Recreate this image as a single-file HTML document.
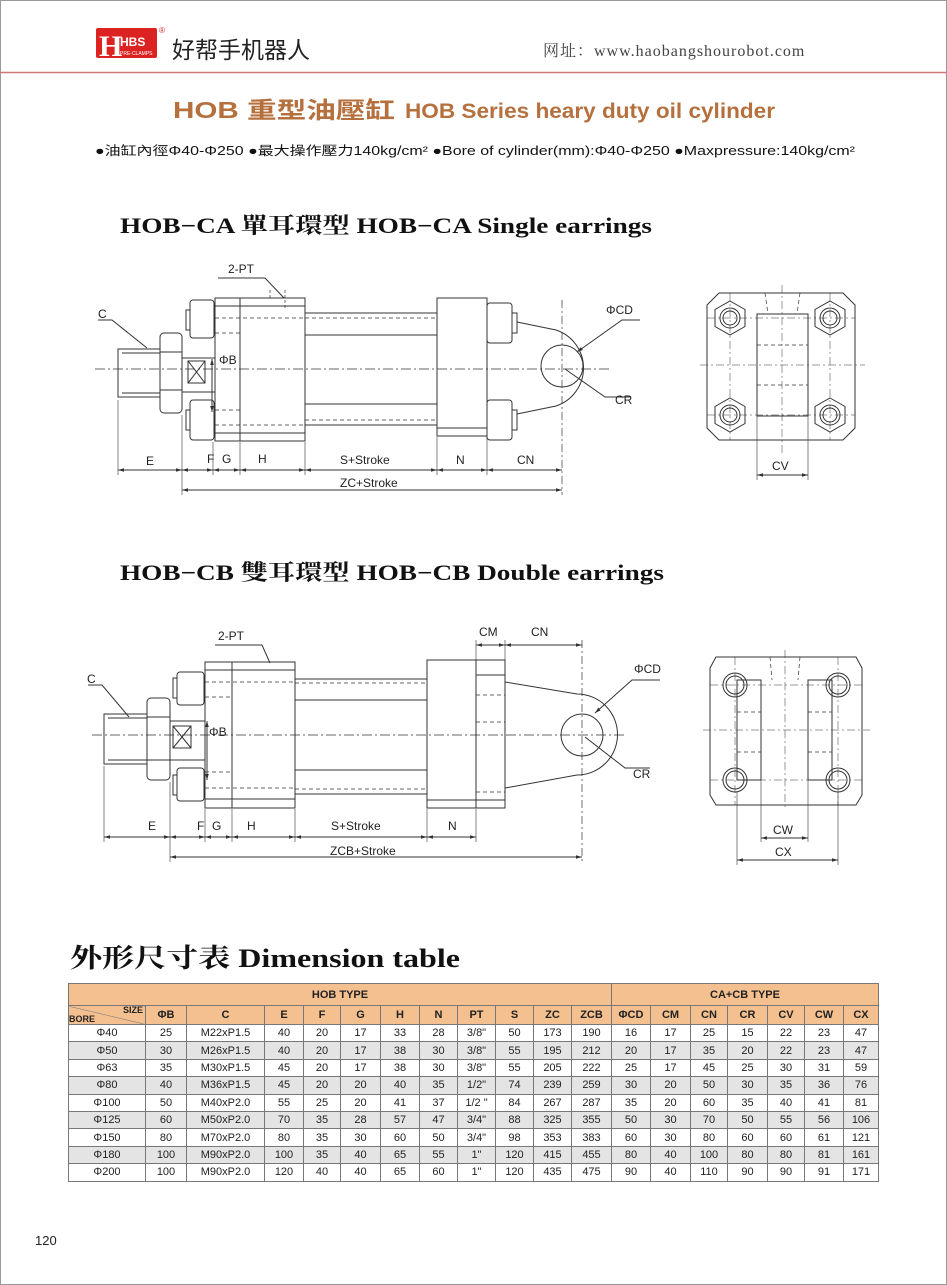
<!DOCTYPE html>
<html><head><meta charset="utf-8">
<style>
body{margin:0;background:#fff;}
#pg{position:relative;width:947px;height:1285px;overflow:hidden;background:#fff;font-family:"Liberation Sans","Noto Sans CJK SC",sans-serif;}
.b{position:absolute;}
table{position:absolute;left:68px;top:983px;border-collapse:collapse;font-family:"Liberation Sans Narrow","Liberation Sans",sans-serif;font-size:11px;color:#222;}
td{border:1px solid #777;text-align:center;padding:0;height:16.4px;line-height:16px;}
tr.h1 td{background:#f4c08f;font-weight:bold;height:21px;}
tr.h2 td{background:#f4c08f;font-weight:bold;height:18px;}
tr.g td{background:#e4e4e4;}
</style></head><body><div id="pg">
<svg class="b" style="left:0;top:0" width="947" height="1285" xmlns="http://www.w3.org/2000/svg">
<defs>
<marker id="a" viewBox="0 0 10 10" refX="10" refY="5" markerWidth="6" markerHeight="6" orient="auto-start-reverse"><path d="M0,2L10,5L0,8z" fill="#333"/></marker>
</defs>
<rect x="0.5" y="0.5" width="946" height="1284" fill="none" stroke="#999"/>
<!-- logo -->
<rect x="96" y="28" width="61" height="30" rx="2" fill="#d22"/>
<text x="99" y="56" font-family="Liberation Serif" font-size="30" font-weight="bold" fill="#fff">H</text>
<text x="120" y="46" font-family="Liberation Sans" font-size="12" font-weight="bold" fill="#fff">HBS</text>
<text x="120" y="55" font-family="Liberation Sans" font-size="5" fill="#fff">PRE-CLAMPS</text>
<text x="159" y="33" font-size="8" fill="#d22">®</text>
<text x="172" y="58" font-family="'Noto Sans CJK SC',sans-serif" font-size="23" fill="#222">好帮手机器人</text>
<text x="543" y="56" font-family="'Liberation Serif','Noto Serif CJK SC',serif" font-size="16" fill="#444" letter-spacing="1">网址：www.haobangshourobot.com</text>
<line x1="0" y1="72.5" x2="947" y2="72.5" stroke="#c77" stroke-width="1.5"/>
<text x="173" y="118" font-family="'Liberation Sans','Noto Sans CJK SC',sans-serif" font-size="23" font-weight="bold" fill="#b5703e" textLength="222" lengthAdjust="spacingAndGlyphs">HOB 重型油壓缸</text>
<text x="405" y="118" font-family="'Liberation Sans Narrow','Liberation Sans',sans-serif" font-size="21" font-weight="bold" fill="#b5703e" textLength="370" lengthAdjust="spacingAndGlyphs">HOB Series heary duty oil cylinder</text>
<text x="95" y="155" font-family="'Liberation Sans Narrow','Liberation Sans','Noto Sans CJK SC',sans-serif" font-size="12.5" fill="#111" textLength="760" lengthAdjust="spacingAndGlyphs">●油缸內徑Φ40-Φ250  ●最大操作壓力140kg/cm²   ●Bore of cylinder(mm):Φ40-Φ250   ●Maxpressure:140kg/cm²</text>
<text x="120" y="233" font-family="'Liberation Serif','Noto Serif CJK SC',serif" font-size="22" font-weight="bold" fill="#111" textLength="532" lengthAdjust="spacingAndGlyphs">HOB−CA 單耳環型  HOB−CA Single earrings</text>
<text x="120" y="580" font-family="'Liberation Serif','Noto Serif CJK SC',serif" font-size="22" font-weight="bold" fill="#111" textLength="544" lengthAdjust="spacingAndGlyphs">HOB−CB 雙耳環型  HOB−CB Double earrings</text>
<text x="70" y="967" font-family="'Liberation Serif','Noto Serif CJK SC',serif" font-size="26" font-weight="bold" fill="#111" textLength="390" lengthAdjust="spacingAndGlyphs">外形尺寸表  Dimension table</text>
<text x="35" y="1245" font-size="13" fill="#222">120</text>

<g fill="none" stroke="#333" stroke-width="1" font-family="Liberation Sans" font-size="12">
<!-- ===== CA ===== -->
<line x1="95" y1="369" x2="610" y2="369" stroke-dasharray="10,3,2,3" stroke-width=".7"/>
<rect x="118" y="349" width="42" height="48"/><line x1="122" y1="353" x2="160" y2="353"/><line x1="122" y1="393" x2="160" y2="393"/>
<rect x="160" y="333" width="22" height="80" rx="4"/><line x1="160" y1="352" x2="182" y2="352"/><line x1="160" y1="390" x2="182" y2="390"/>
<rect x="182" y="358" width="33" height="34"/><rect x="188" y="361" width="17" height="22"/><path d="M188,361L205,383M205,361L188,383"/>
<path d="M212,359V412" marker-start="url(#a)" marker-end="url(#a)"/>
<text x="219" y="364" stroke="none" fill="#222">ΦB</text>
<rect x="215" y="298" width="90" height="143"/><line x1="240" y1="298" x2="240" y2="441"/><line x1="215" y1="306" x2="305" y2="306"/><line x1="215" y1="433" x2="305" y2="433"/>
<path d="M215,318H305M215,333H240M215,410H240M215,425H305" stroke-dasharray="4,3" stroke-width=".7"/>
<rect x="190" y="300" width="24" height="38" rx="3"/><rect x="186" y="310" width="4" height="20"/>
<rect x="190" y="400" width="24" height="40" rx="3"/><rect x="186" y="410" width="4" height="20"/>
<rect x="305" y="313" width="132" height="112"/><line x1="305" y1="335" x2="437" y2="335"/><line x1="305" y1="404" x2="437" y2="404"/>
<path d="M305,318H437M305,420H437" stroke-dasharray="4,3" stroke-width=".7"/>
<rect x="437" y="298" width="50" height="138"/><line x1="437" y1="428" x2="487" y2="428"/>
<rect x="487" y="303" width="25" height="40" rx="3"/><rect x="512" y="313" width="5" height="20"/>
<rect x="487" y="400" width="25" height="40" rx="3"/><rect x="512" y="410" width="5" height="20"/>
<path d="M517,322L556,330A40,40 0 0 1 556,406L517,414"/>
<circle cx="562" cy="366" r="21"/>
<line x1="562" y1="300" x2="562" y2="495" stroke-dasharray="8,3,2,3" stroke-width=".7"/>
<path d="M270,290V300M285,290V310" stroke-dasharray="3,2" stroke-width=".7"/>
<path d="M98,320H112L147,348" /><text x="98" y="318" stroke="none" fill="#222">C</text>
<path d="M218,278H265L284,298"/><text x="228" y="273" stroke="none" fill="#222">2-PT</text>
<path d="M640,320H622L577,352" marker-end="url(#a)"/><text x="606" y="314" stroke="none" fill="#222">ΦCD</text>
<path d="M565,369L605,397H630" /><text x="615" y="404" stroke="none" fill="#222">CR</text>
<path d="M118,400V475M182,415V495M213,442V475M240,442V475M305,442V475M437,437V475M487,437V475" stroke-width=".6"/>
<path d="M118,470H182" marker-start="url(#a)" marker-end="url(#a)"/><path d="M182,470H213" marker-start="url(#a)" marker-end="url(#a)"/>
<path d="M213,470H240" marker-start="url(#a)" marker-end="url(#a)"/><path d="M240,470H305" marker-start="url(#a)" marker-end="url(#a)"/>
<path d="M305,470H437" marker-start="url(#a)" marker-end="url(#a)"/><path d="M437,470H487" marker-start="url(#a)" marker-end="url(#a)"/>
<path d="M487,470H562" marker-start="url(#a)" marker-end="url(#a)"/><path d="M182,490H562" marker-start="url(#a)" marker-end="url(#a)"/>
<g stroke="none" fill="#222"><text x="146" y="465">E</text><text x="207" y="463">F</text><text x="222" y="463">G</text><text x="258" y="463">H</text><text x="340" y="464">S+Stroke</text><text x="456" y="464">N</text><text x="517" y="464">CN</text><text x="340" y="487">ZC+Stroke</text></g>
<!-- CA side -->
<path d="M707,305L719,293H843L855,305V428L843,440H719L707,428Z"/>
<rect x="757" y="314" width="51" height="102"/>
<path d="M757,345H808M757,385H808M765,293L768,314M800,293L797,314" stroke-dasharray="4,3" stroke-width=".7"/>
<path d="M700,365H865M782,285V455M707,318H855M707,415H855M730,293V440M830,293V440" stroke-dasharray="8,3,2,3" stroke-width=".5"/>
<g id="nut"><polygon points="730,301 745,309.5 745,326.5 730,335 715,326.5 715,309.5"/><circle cx="730" cy="318" r="10"/><circle cx="730" cy="318" r="7"/></g>
<use href="#nut" x="100"/><use href="#nut" y="97"/><use href="#nut" x="100" y="97"/>
<path d="M757,416V480M808,416V480" stroke-width=".6"/>
<path d="M757,475H808" marker-start="url(#a)" marker-end="url(#a)"/><text x="772" y="470" stroke="none" fill="#222">CV</text>

<!-- ===== CB ===== -->
<line x1="92" y1="735" x2="625" y2="735" stroke-dasharray="10,3,2,3" stroke-width=".7"/>
<rect x="104" y="714" width="43" height="50"/><line x1="108" y1="718" x2="147" y2="718"/><line x1="108" y1="760" x2="147" y2="760"/>
<rect x="147" y="698" width="23" height="82" rx="4"/><line x1="147" y1="717" x2="170" y2="717"/><line x1="147" y1="760" x2="170" y2="760"/>
<rect x="170" y="721" width="35" height="39"/><rect x="173" y="726" width="18" height="22"/><path d="M173,726L191,748M191,726L173,748"/>
<path d="M207,721V780" marker-start="url(#a)" marker-end="url(#a)"/>
<text x="209" y="736" stroke="none" fill="#222">ΦB</text>
<rect x="205" y="662" width="90" height="146"/><line x1="232" y1="662" x2="232" y2="808"/><line x1="205" y1="670" x2="295" y2="670"/><line x1="205" y1="799" x2="295" y2="799"/>
<path d="M205,682H295M205,697H232M205,772H232M205,788H295" stroke-dasharray="4,3" stroke-width=".7"/>
<rect x="177" y="672" width="27" height="33" rx="3"/><rect x="173" y="678" width="4" height="20"/>
<rect x="177" y="768" width="27" height="33" rx="3"/><rect x="173" y="775" width="4" height="20"/>
<rect x="295" y="679" width="132" height="115"/><line x1="295" y1="700" x2="427" y2="700"/><line x1="295" y1="770" x2="427" y2="770"/>
<path d="M295,683H427M295,789H427" stroke-dasharray="4,3" stroke-width=".7"/>
<rect x="427" y="660" width="49" height="148"/><line x1="427" y1="800" x2="476" y2="800"/>
<rect x="476" y="660" width="29" height="148"/><line x1="476" y1="675" x2="505" y2="675"/><line x1="476" y1="800" x2="505" y2="800"/>
<path d="M476,695H505M476,722H505M476,792H505" stroke-dasharray="4,3" stroke-width=".7"/>
<path d="M505,682L577,694A40,40 0 0 1 577,775L505,788"/>
<circle cx="582" cy="735" r="21"/>
<line x1="582" y1="640" x2="582" y2="862" stroke-dasharray="8,3,2,3" stroke-width=".7"/>
<line x1="476" y1="640" x2="476" y2="660" stroke-width=".6"/><line x1="505" y1="640" x2="505" y2="660" stroke-width=".6"/>
<path d="M476,645H505" marker-start="url(#a)" marker-end="url(#a)"/><path d="M505,645H582" marker-start="url(#a)" marker-end="url(#a)"/>
<g stroke="none" fill="#222"><text x="479" y="636">CM</text><text x="531" y="636">CN</text></g>
<path d="M88,685H102L129,717"/><text x="87" y="683" stroke="none" fill="#222">C</text>
<path d="M215,645H262L270,663"/><text x="218" y="640" stroke="none" fill="#222">2-PT</text>
<path d="M660,680H632L595,713" marker-end="url(#a)"/><text x="634" y="673" stroke="none" fill="#222">ΦCD</text>
<path d="M585,737L625,768H650" /><text x="633" y="778" stroke="none" fill="#222">CR</text>
<path d="M104,766V842M170,782V862M205,809V842M232,809V842M295,809V842M427,809V842M476,809V842" stroke-width=".6"/>
<path d="M104,837H170" marker-start="url(#a)" marker-end="url(#a)"/><path d="M170,837H205" marker-start="url(#a)" marker-end="url(#a)"/>
<path d="M205,837H232" marker-start="url(#a)" marker-end="url(#a)"/><path d="M232,837H295" marker-start="url(#a)" marker-end="url(#a)"/>
<path d="M295,837H427" marker-start="url(#a)" marker-end="url(#a)"/><path d="M427,837H476" marker-start="url(#a)" marker-end="url(#a)"/>
<path d="M170,857H582" marker-start="url(#a)" marker-end="url(#a)"/>
<g stroke="none" fill="#222"><text x="148" y="830">E</text><text x="197" y="830">F</text><text x="212" y="830">G</text><text x="247" y="830">H</text><text x="331" y="830">S+Stroke</text><text x="448" y="830">N</text><text x="330" y="855">ZCB+Stroke</text></g>
<!-- CB side -->
<path d="M710,668L716,657H856L862,668V795L856,805H716L710,795Z"/>
<rect x="737" y="680" width="24" height="100"/><rect x="808" y="680" width="24" height="100"/>
<path d="M737,712H761M737,752H761M808,712H832M808,752H832M770,657L772,680M800,657L798,680" stroke-dasharray="4,3" stroke-width=".7"/>
<path d="M703,730H870M785,650V810M710,685H862M710,780H862M735,657V805M838,657V805" stroke-dasharray="8,3,2,3" stroke-width=".5"/>
<circle cx="735" cy="685" r="12"/><circle cx="735" cy="685" r="9"/>
<circle cx="838" cy="685" r="12"/><circle cx="838" cy="685" r="9"/>
<circle cx="735" cy="780" r="12"/><circle cx="735" cy="780" r="9"/>
<circle cx="838" cy="780" r="12"/><circle cx="838" cy="780" r="9"/>
<path d="M761,780V842M808,780V842M737,792V865M838,792V865" stroke-width=".6"/>
<path d="M761,838H808" marker-start="url(#a)" marker-end="url(#a)"/><text x="773" y="834" stroke="none" fill="#222">CW</text>
<path d="M737,860H838" marker-start="url(#a)" marker-end="url(#a)"/><text x="775" y="856" stroke="none" fill="#222">CX</text>
</g>
</svg>

<table>
<colgroup><col style="width:77px"><col style="width:41px"><col style="width:78px"><col style="width:39px"><col style="width:37px"><col style="width:40px"><col style="width:39px"><col style="width:38px"><col style="width:38px"><col style="width:38px"><col style="width:38px"><col style="width:40px"><col style="width:39px"><col style="width:40px"><col style="width:37px"><col style="width:40px"><col style="width:37px"><col style="width:39px"><col style="width:35px"></colgroup>
<tr class="h1"><td colspan="12">HOB TYPE</td><td colspan="7">CA+CB TYPE</td></tr>
<tr class="h2"><td style="background:linear-gradient(to top right,#f4c08f 49%,#777 50%,#f4c08f 52%);font-size:9px;line-height:9px;text-align:left"><span style="float:right;padding-right:2px">SIZE</span><br>BORE</td><td>ΦB</td><td>C</td><td>E</td><td>F</td><td>G</td><td>H</td><td>N</td><td>PT</td><td>S</td><td>ZC</td><td>ZCB</td><td>ΦCD</td><td>CM</td><td>CN</td><td>CR</td><td>CV</td><td>CW</td><td>CX</td></tr>
<tr><td>Φ40</td><td>25</td><td>M22xP1.5</td><td>40</td><td>20</td><td>17</td><td>33</td><td>28</td><td>3/8"</td><td>50</td><td>173</td><td>190</td><td>16</td><td>17</td><td>25</td><td>15</td><td>22</td><td>23</td><td>47</td></tr>
<tr class="g"><td>Φ50</td><td>30</td><td>M26xP1.5</td><td>40</td><td>20</td><td>17</td><td>38</td><td>30</td><td>3/8"</td><td>55</td><td>195</td><td>212</td><td>20</td><td>17</td><td>35</td><td>20</td><td>22</td><td>23</td><td>47</td></tr>
<tr><td>Φ63</td><td>35</td><td>M30xP1.5</td><td>45</td><td>20</td><td>17</td><td>38</td><td>30</td><td>3/8"</td><td>55</td><td>205</td><td>222</td><td>25</td><td>17</td><td>45</td><td>25</td><td>30</td><td>31</td><td>59</td></tr>
<tr class="g"><td>Φ80</td><td>40</td><td>M36xP1.5</td><td>45</td><td>20</td><td>20</td><td>40</td><td>35</td><td>1/2"</td><td>74</td><td>239</td><td>259</td><td>30</td><td>20</td><td>50</td><td>30</td><td>35</td><td>36</td><td>76</td></tr>
<tr><td>Φ100</td><td>50</td><td>M40xP2.0</td><td>55</td><td>25</td><td>20</td><td>41</td><td>37</td><td>1/2 "</td><td>84</td><td>267</td><td>287</td><td>35</td><td>20</td><td>60</td><td>35</td><td>40</td><td>41</td><td>81</td></tr>
<tr class="g"><td>Φ125</td><td>60</td><td>M50xP2.0</td><td>70</td><td>35</td><td>28</td><td>57</td><td>47</td><td>3/4"</td><td>88</td><td>325</td><td>355</td><td>50</td><td>30</td><td>70</td><td>50</td><td>55</td><td>56</td><td>106</td></tr>
<tr><td>Φ150</td><td>80</td><td>M70xP2.0</td><td>80</td><td>35</td><td>30</td><td>60</td><td>50</td><td>3/4"</td><td>98</td><td>353</td><td>383</td><td>60</td><td>30</td><td>80</td><td>60</td><td>60</td><td>61</td><td>121</td></tr>
<tr class="g"><td>Φ180</td><td>100</td><td>M90xP2.0</td><td>100</td><td>35</td><td>40</td><td>65</td><td>55</td><td>1"</td><td>120</td><td>415</td><td>455</td><td>80</td><td>40</td><td>100</td><td>80</td><td>80</td><td>81</td><td>161</td></tr>
<tr><td>Φ200</td><td>100</td><td>M90xP2.0</td><td>120</td><td>40</td><td>40</td><td>65</td><td>60</td><td>1"</td><td>120</td><td>435</td><td>475</td><td>90</td><td>40</td><td>110</td><td>90</td><td>90</td><td>91</td><td>171</td></tr>
</table>
</div></body></html>
